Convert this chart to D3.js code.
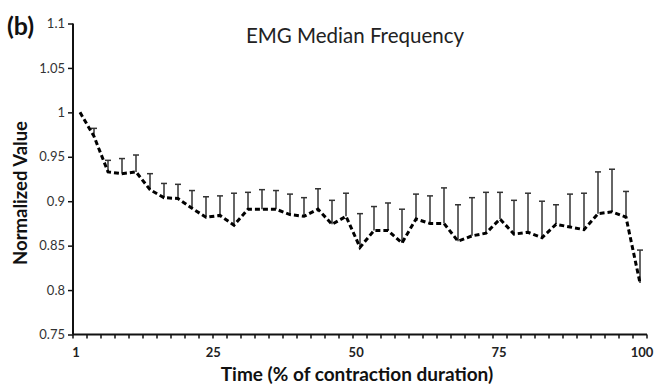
<!DOCTYPE html>
<html>
<head>
<meta charset="utf-8">
<script src="https://cdn.jsdelivr.net/npm/d3@7"></script>
<style>
  html, body { margin: 0; padding: 0; background: #fff; }
  svg { display: block; }
  text { font-family: Lato, "Open Sans", sans-serif; }
</style>
</head>
<body>
<svg id="chart" width="664" height="385"></svg>
<script>
// Time points (% of contraction duration), one per sample
const timePct = [0, 2.5, 5, 7.5, 10, 12.5, 15, 17.5, 20, 22.5,
                 25, 27.5, 30, 32.5, 35, 37.5, 40, 42.5, 45, 47.5,
                 50, 52.5, 55, 57.5, 60, 62.5, 65, 67.5, 70, 72.5,
                 75, 77.5, 80, 82.5, 85, 87.5, 90, 92.5, 95, 97.5, 100];

// Normalized EMG median frequency (mean)
const meanValues = [1.000, 0.973, 0.933, 0.931, 0.933, 0.913, 0.904, 0.903, 0.892, 0.882,
                    0.884, 0.873, 0.891, 0.891, 0.891, 0.885, 0.883, 0.891, 0.874, 0.883,
                    0.848, 0.867, 0.867, 0.853, 0.880, 0.875, 0.875, 0.855, 0.861, 0.864,
                    0.880, 0.863, 0.865, 0.859, 0.874, 0.871, 0.868, 0.886, 0.888, 0.882,
                    0.808];

// Upper end of the error bar (mean + SD); first sample has none
const upperValues = [null, 0.982, 0.946, 0.948, 0.952, 0.931, 0.920, 0.919, 0.912, 0.905,
                     0.906, 0.909, 0.910, 0.913, 0.912, 0.908, 0.904, 0.914, 0.901, 0.909,
                     0.886, 0.894, 0.898, 0.891, 0.908, 0.906, 0.915, 0.896, 0.904, 0.910,
                     0.910, 0.901, 0.909, 0.900, 0.896, 0.908, 0.909, 0.933, 0.936, 0.911,
                     0.845];

const yTicks = [0.75, 0.8, 0.85, 0.9, 0.95, 1, 1.05, 1.1];
const xTickValues = [1, 25, 50, 75, 100];

const svg = d3.select("#chart");

// Category axis: one band per sample, ticks on the band edges
const x = d3.scaleBand().domain(timePct).range([73, 647]).paddingInner(0).paddingOuter(0);
const xc = d => x(d) + x.bandwidth() / 2;
// Label positions along the time axis
const xLabel = d3.scaleLinear().domain([1, 100]).range([76, 642]);
const y = d3.scaleLinear().domain([0.75, 1.1]).range([334.5, 23.5]);

const axisColor = "#111";

// Y axis
const yAxis = svg.append("g")
  .attr("transform", "translate(73,0)")
  .call(d3.axisLeft(y).tickValues(yTicks).tickSize(5).tickPadding(3)
    .tickFormat(d => d3.format("")(+d.toFixed(2))));
yAxis.select(".domain").attr("stroke", axisColor).attr("stroke-width", 2).attr("d", `M0,${y(1.1)}V${y(0.75)}`);
yAxis.selectAll(".tick line").attr("stroke", axisColor).attr("stroke-width", 1.5);
yAxis.selectAll(".tick text").attr("fill", "#333").style("font-size", "13px");

// X axis with a tick at every band edge
const edges = timePct.map(d => x(d)).concat([x.range()[1]]);
const xAxisG = svg.append("g");
xAxisG.append("line")
  .attr("x1", x.range()[0]).attr("x2", x.range()[1])
  .attr("y1", y(0.75)).attr("y2", y(0.75))
  .attr("stroke", axisColor).attr("stroke-width", 2);
xAxisG.selectAll("line.tick").data(edges).join("line")
  .attr("class", "tick")
  .attr("x1", d => d).attr("x2", d => d)
  .attr("y1", y(0.75)).attr("y2", y(0.75) + 4)
  .attr("stroke", axisColor).attr("stroke-width", 1.5);
xAxisG.selectAll("text").data(xTickValues).join("text")
  .attr("x", d => xLabel(d)).attr("y", 357)
  .attr("text-anchor", "middle")
  .attr("fill", "#222")
  .style("font-size", "13px").style("font-weight", "700")
  .text(d => d);

// Error bars (upper only)
const bars = timePct.map((t, i) => ({ t, m: meanValues[i], u: upperValues[i] })).filter(d => d.u !== null);
const eb = svg.append("g").attr("stroke", "#333").attr("stroke-width", 1.5);
eb.selectAll("line.v").data(bars).join("line")
  .attr("class", "v")
  .attr("x1", d => xc(d.t)).attr("x2", d => xc(d.t))
  .attr("y1", d => y(d.m)).attr("y2", d => y(d.u));
eb.selectAll("line.cap").data(bars).join("line")
  .attr("class", "cap")
  .attr("x1", d => xc(d.t) - 3).attr("x2", d => xc(d.t) + 3)
  .attr("y1", d => y(d.u)).attr("y2", d => y(d.u));

// Mean line, dashed
svg.append("path")
  .datum(timePct.map((t, i) => [t, meanValues[i]]))
  .attr("fill", "none")
  .attr("stroke", "#000")
  .attr("stroke-width", 3)
  .attr("stroke-dasharray", "5,3")
  .attr("d", d3.line().x(d => xc(d[0])).y(d => y(d[1])));

// Titles
svg.append("text")
  .attr("x", 355).attr("y", 43)
  .attr("text-anchor", "middle")
  .attr("fill", "#222")
  .style("font-size", "20.5px")
  .text("EMG Median Frequency");

svg.append("text")
  .attr("x", 7).attr("y", 35)
  .attr("fill", "#111")
  .style("font-size", "25px").style("font-weight", "700")
  .text("(b)");

svg.append("text")
  .attr("transform", "translate(27,193) rotate(-90)")
  .attr("text-anchor", "middle")
  .attr("fill", "#111")
  .style("font-size", "18.5px").style("font-weight", "700")
  .text("Normalized Value");

svg.append("text")
  .attr("x", 357).attr("y", 381)
  .attr("text-anchor", "middle")
  .attr("fill", "#111")
  .style("font-size", "19px").style("font-weight", "700")
  .text("Time (% of contraction duration)");
</script>
</body>
</html>
